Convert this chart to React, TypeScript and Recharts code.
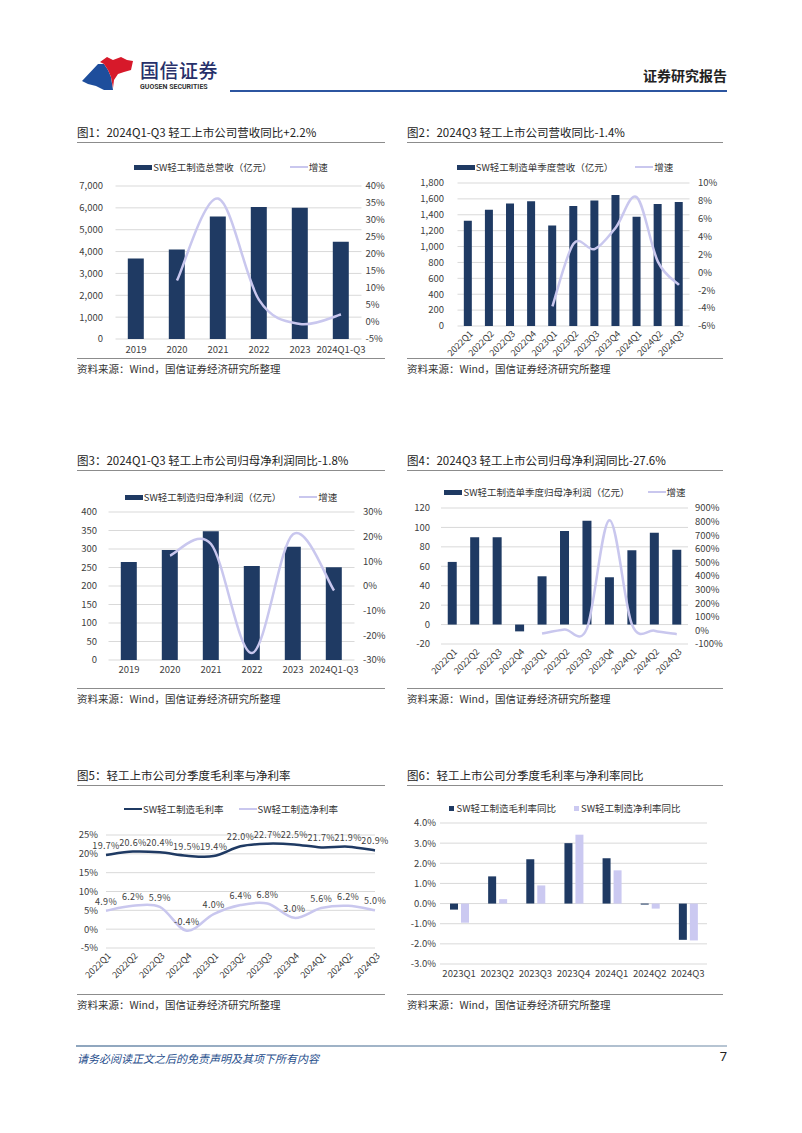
import React from "react";
import {
  ComposedChart,
  BarChart,
  LineChart,
  Bar,
  Line,
  XAxis,
  YAxis,
  CartesianGrid,
  LabelList,
} from "recharts";

const NAVY = "#1F3A63";
const LAVENDER = "#C9C7EE";
const GRID = "#D9D9D9";
const TEXT = "#404040";
const FONT = '"Noto Sans CJK SC", "Noto Sans", sans-serif';

// 图1 / 图3 years
const yearCats = ["2019", "2020", "2021", "2022", "2023", "2024Q1-Q3"];
const revenueTotal = [3680, 4100, 5600, 6040, 6010, 4450];
const revenueTotalYoy = [null, 12.2, 36.3, 6.5, -0.6, 2.2];
const revenueTicks = [0, 1000, 2000, 3000, 4000, 5000, 6000, 7000];
const revenueYoyTicks = [-5, 0, 5, 10, 15, 20, 25, 30, 35, 40];

// 图2 / 图4 / 图5 quarters
const quarters = [
  "2022Q1", "2022Q2", "2022Q3", "2022Q4",
  "2023Q1", "2023Q2", "2023Q3", "2023Q4",
  "2024Q1", "2024Q2", "2024Q3",
];
const revenueQuarter = [1325, 1463, 1543, 1569, 1266, 1510, 1581, 1648, 1375, 1535, 1560];
const revenueQuarterYoy = [null, null, null, null, -3.8, 3.2, 2.6, 5.0, 8.4, 1.2, -1.4];
const revenueQTicks = [0, 200, 400, 600, 800, 1000, 1200, 1400, 1600, 1800];
const revenueQYoyTicks = [-6, -4, -2, 0, 2, 4, 6, 8, 10];

const profitTotal = [265, 297, 348, 254, 306, 251];
const profitTotalYoy = [null, 12.3, 17.0, -27.2, 21.0, -1.8];
const profitTicks = [0, 50, 100, 150, 200, 250, 300, 350, 400];
const profitYoyTicks = [-30, -20, -10, 0, 10, 20, 30];

const profitQuarter = [64.5, 90, 90, -7, 49.7, 96.3, 107, 48.7, 76.5, 94.6, 77];
const profitQuarterYoy = [null, null, null, null, -23, 7, 15, 810, 45, -2, -27.6];
const profitQTicks = [-20, 0, 20, 40, 60, 80, 100, 120];
const profitQYoyTicks = [-100, 0, 100, 200, 300, 400, 500, 600, 700, 800, 900];

const grossMargin = [19.7, 20.6, 20.4, 19.5, 19.4, 22.0, 22.7, 22.5, 21.7, 21.9, 20.9];
const netMargin = [4.9, 6.2, 5.9, -0.4, 4.0, 6.4, 6.8, 3.0, 5.6, 6.2, 5.0];
const marginTicks = [-5, 0, 5, 10, 15, 20, 25];

// 图6
const quarters23 = ["2023Q1", "2023Q2", "2023Q3", "2023Q4", "2024Q1", "2024Q2", "2024Q3"];
const grossMarginYoy = [-0.3, 1.35, 2.2, 3.0, 2.25, -0.05, -1.8];
const netMarginYoy = [-0.95, 0.22, 0.9, 3.42, 1.65, -0.25, -1.83];
const marginYoyTicks = [-3, -2, -1, 0, 1, 2, 3, 4];

// Excel-like smoothed line (cardinal / catmull-rom style bezier)
const excelCurve = (context: any) => {
  let pts: number[][] = [];
  return {
    areaStart() {},
    areaEnd() {},
    lineStart() {
      pts = [];
    },
    point(x: number, y: number) {
      pts.push([+x, +y]);
    },
    lineEnd() {
      const n = pts.length;
      if (!n) return;
      context.moveTo(pts[0][0], pts[0][1]);
      for (let i = 0; i < n - 1; i++) {
        const p0 = pts[i - 1] || pts[i];
        const p1 = pts[i];
        const p2 = pts[i + 1];
        const p3 = pts[i + 2] || p2;
        context.bezierCurveTo(
          p1[0] + (p2[0] - p0[0]) / 6,
          p1[1] + (p2[1] - p0[1]) / 6,
          p2[0] - (p3[0] - p1[0]) / 6,
          p2[1] - (p3[1] - p1[1]) / 6,
          p2[0],
          p2[1]
        );
      }
    },
  };
};

const thousands = (v: number) => v.toLocaleString("en-US");
const pct = (v: number) => `${v}%`;
const pct1 = (v: number) => `${v.toFixed(1)}%`;

const FlatTick = (props: any) => {
  const { x, y, payload, dy = 10 } = props;
  return (
    <text x={x} y={y + dy} textAnchor="middle" dominantBaseline="central" fontSize={9.5} fill={TEXT} fontFamily={FONT}>
      {payload.value}
    </text>
  );
};

const RotTick = (props: any) => {
  const { x, y, payload } = props;
  const ax = x + 3;
  const ay = y + 6;
  return (
    <text
      x={ax}
      y={ay}
      textAnchor="end"
      dominantBaseline="central"
      fontSize={9}
      fill={TEXT}
      fontFamily={FONT}
      transform={`rotate(-45 ${ax} ${ay})`}
    >
      {payload.value}
    </text>
  );
};

const tickStyle = { fontSize: 9.5, fill: TEXT, fontFamily: FONT };

type Box = { x0: number; x1: number; y0: number; y1: number };
type Frame = { L: number; T: number; W: number; H: number };

function Combo(props: {
  cats: string[];
  bars: number[];
  yoy: (number | null)[];
  box: Box;
  frame: Frame;
  leftTicks: number[];
  rightTicks: number[];
  leftFmt: (v: number) => string;
  leftGap: number;
  rightGap: number;
  rotated?: boolean;
  labelDy?: number;
}) {
  const { cats, bars, yoy, box, frame, leftTicks, rightTicks } = props;
  const data = cats.map((c, i) => ({ cat: c, v: bars[i], g: yoy[i] }));
  return (
    <div style={{ position: "absolute", left: frame.L, top: frame.T }}>
      <ComposedChart
        width={frame.W}
        height={frame.H}
        data={data}
        margin={{ top: box.y0 - frame.T, right: 0, bottom: 0, left: 0 }}
        barCategoryGap="30%"
      >
        <CartesianGrid vertical={false} stroke={GRID} />
        <XAxis
          dataKey="cat"
          height={frame.T + frame.H - box.y1}
          axisLine={false}
          tickLine={false}
          tickSize={0}
          tickMargin={0}
          interval={0}
          tick={props.rotated ? <RotTick /> : <FlatTick dy={props.labelDy ?? 10} />}
        />
        <YAxis
          width={box.x0 - frame.L}
          domain={[leftTicks[0], leftTicks[leftTicks.length - 1]]}
          ticks={leftTicks}
          tickFormatter={props.leftFmt}
          axisLine={false}
          tickLine={false}
          tickSize={0}
          tickMargin={props.leftGap}
          tick={tickStyle}
          interval={0}
        />
        <YAxis
          yAxisId="r"
          orientation="right"
          width={frame.L + frame.W - box.x1}
          domain={[rightTicks[0], rightTicks[rightTicks.length - 1]]}
          ticks={rightTicks}
          tickFormatter={pct}
          axisLine={false}
          tickLine={false}
          tickSize={0}
          tickMargin={props.rightGap}
          tick={tickStyle}
          interval={0}
        />
        <Bar dataKey="v" fill={NAVY} isAnimationActive={false} />
        <Line
          yAxisId="r"
          dataKey="g"
          type={excelCurve as any}
          stroke={LAVENDER}
          strokeWidth={2.5}
          dot={false}
          activeDot={false}
          connectNulls={false}
          isAnimationActive={false}
        />
      </ComposedChart>
    </div>
  );
}

const labelStyle = { fontSize: 9, fill: TEXT, fontFamily: FONT, letterSpacing: 0.3 };

function MarginLines() {
  const data = quarters.map((c, i) => ({ cat: c, gross: grossMargin[i], net: netMargin[i] }));
  const frame = { L: 70, T: 825, W: 320, H: 160 };
  const box = { x0: 106, x1: 375, y0: 835, y1: 948 };
  return (
    <div style={{ position: "absolute", left: frame.L, top: frame.T }}>
      <LineChart
        width={frame.W}
        height={frame.H}
        data={data}
        margin={{ top: box.y0 - frame.T, right: frame.L + frame.W - box.x1, bottom: 0, left: 0 }}
      >
        <CartesianGrid vertical={false} stroke={GRID} />
        <XAxis
          dataKey="cat"
          height={frame.T + frame.H - box.y1}
          axisLine={false}
          tickLine={false}
          tickSize={0}
          tickMargin={0}
          interval={0}
          tick={<RotTick />}
        />
        <YAxis
          width={box.x0 - frame.L}
          domain={[-5, 25]}
          ticks={marginTicks}
          tickFormatter={pct}
          axisLine={false}
          tickLine={false}
          tickSize={0}
          tickMargin={8}
          tick={tickStyle}
          interval={0}
        />
        <Line dataKey="gross" type={excelCurve as any} stroke={NAVY} strokeWidth={2.5} dot={false} isAnimationActive={false}>
          <LabelList dataKey="gross" position="top" offset={6} formatter={(v: any) => pct1(Number(v))} style={labelStyle} />
        </Line>
        <Line dataKey="net" type={excelCurve as any} stroke={LAVENDER} strokeWidth={2.5} dot={false} isAnimationActive={false}>
          <LabelList dataKey="net" position="top" offset={6} formatter={(v: any) => pct1(Number(v))} style={labelStyle} />
        </Line>
      </LineChart>
    </div>
  );
}

function MarginYoyBars() {
  const data = quarters23.map((c, i) => ({ cat: c, gross: grossMarginYoy[i], net: netMarginYoy[i] }));
  const frame = { L: 400, T: 813, W: 320, H: 175 };
  const box = { x0: 440, x1: 707, y0: 823, y1: 964 };
  return (
    <div style={{ position: "absolute", left: frame.L, top: frame.T }}>
      <BarChart
        width={frame.W}
        height={frame.H}
        data={data}
        margin={{ top: box.y0 - frame.T, right: frame.L + frame.W - box.x1, bottom: 0, left: 0 }}
        barGap={3}
      >
        <CartesianGrid vertical={false} stroke={GRID} />
        <XAxis
          dataKey="cat"
          height={frame.T + frame.H - box.y1}
          axisLine={false}
          tickLine={false}
          tickSize={0}
          tickMargin={0}
          interval={0}
          tick={<FlatTick dy={9} />}
        />
        <YAxis
          width={box.x0 - frame.L}
          domain={[-3, 4]}
          ticks={marginYoyTicks}
          tickFormatter={pct1}
          axisLine={false}
          tickLine={false}
          tickSize={0}
          tickMargin={4}
          tick={tickStyle}
          interval={0}
        />
        <Bar dataKey="gross" fill={NAVY} barSize={8} isAnimationActive={false} />
        <Bar dataKey="net" fill="#CBC9F1" barSize={8} isAnimationActive={false} />
      </BarChart>
    </div>
  );
}

type LegendItem = { label: string; kind: "bar" | "line" | "square"; color: string };

function Legend(props: { items: LegendItem[]; cx: number; y: number; gap?: number }) {
  return (
    <div
      style={{
        position: "absolute",
        left: props.cx - 200,
        width: 400,
        top: props.y - 8,
        height: 16,
        display: "flex",
        justifyContent: "center",
        alignItems: "center",
        gap: props.gap ?? 18,
        fontSize: 9.5,
        color: "#333",
        fontFamily: FONT,
        whiteSpace: "nowrap",
      }}
    >
      {props.items.map((it) => (
        <div key={it.label} style={{ display: "flex", alignItems: "center" }}>
          <span
            style={{
              display: "inline-block",
              width: it.kind === "square" ? 5 : 18,
              height: it.kind === "bar" ? 5 : it.kind === "line" ? 2.5 : 5,
              background: it.color,
              marginRight: it.kind === "square" ? 2 : 1,
            }}
          />
          <span>{it.label}</span>
        </div>
      ))}
    </div>
  );
}

function Title(props: { x: number; y: number; w: number; text: string }) {
  return (
    <>
      <div
        style={{
          position: "absolute",
          left: props.x,
          top: props.y - 9,
          height: 18,
          lineHeight: "18px",
          fontSize: 11.5,
          color: "#222",
          fontFamily: FONT,
          whiteSpace: "nowrap",
        }}
      >
        {props.text}
      </div>
      <div style={{ position: "absolute", left: props.x, top: props.y + 10, width: props.w, height: 1, background: "#8C8C8C" }} />
    </>
  );
}

function Source(props: { x: number; y: number; w: number }) {
  return (
    <>
      <div style={{ position: "absolute", left: props.x, top: props.y, width: props.w, height: 1, background: "#8C8C8C" }} />
      <div
        style={{
          position: "absolute",
          left: props.x,
          top: props.y + 3,
          height: 16,
          lineHeight: "16px",
          fontSize: 10.5,
          color: "#333",
          fontFamily: FONT,
          whiteSpace: "nowrap",
        }}
      >
        资料来源：Wind，国信证券经济研究所整理
      </div>
    </>
  );
}

const LW = 308;
const RW = 316;

export default function App() {
  return (
    <div
      style={{
        position: "absolute",
        left: 0,
        top: 0,
        width: 802,
        height: 1133,
        background: "#fff",
        fontFamily: FONT,
        overflow: "hidden",
      }}
    >
      {/* header */}
      <svg width={802} height={100} style={{ position: "absolute", left: 0, top: 0 }}>
        <polygon points="82,81 98,64 104,64 108,70 111,77 113,90 104,90 96,86 88,84" fill="#1E4E9C" />
        <polygon points="100,62 107,57 113,60 121,57 127,60 133,61 131,70 124,72 118,74 114,80 113,88 111,77 108,70 104,64" fill="#D7192A" />
      </svg>
      <div style={{ position: "absolute", left: 140, top: 59, fontSize: 19, lineHeight: "22px", color: "#27306A", fontWeight: 500, letterSpacing: 0.5 }}>
        国信证券
      </div>
      <div style={{ position: "absolute", left: 140, top: 83, fontSize: 7, lineHeight: "9px", color: "#333", fontWeight: 700, fontFamily: "Roboto, sans-serif" }}>
        GUOSEN SECURITIES
      </div>
      <div style={{ position: "absolute", left: 230, top: 90, width: 497, height: 2, background: "#2C55A0" }} />
      <div style={{ position: "absolute", right: 802 - 727, top: 66, fontSize: 14, lineHeight: "18px", fontWeight: 700, color: "#222" }}>
        证券研究报告
      </div>

      {/* 图1 */}
      <Title x={77} y={132} w={LW} text="图1：2024Q1-Q3 轻工上市公司营收同比+2.2%" />
      <Legend
        cx={231}
        y={167}
        items={[
          { label: "SW轻工制造总营收（亿元）", kind: "bar", color: NAVY },
          { label: "增速", kind: "line", color: LAVENDER },
        ]}
      />
      <Combo
        cats={yearCats}
        bars={revenueTotal}
        yoy={revenueTotalYoy}
        frame={{ L: 70, T: 176, W: 330, H: 180 }}
        box={{ x0: 115.5, x1: 361.5, y0: 186, y1: 339 }}
        leftTicks={revenueTicks}
        rightTicks={revenueYoyTicks}
        leftFmt={thousands}
        leftGap={12.5}
        rightGap={4}
        labelDy={10}
      />
      <Source x={77} y={358} w={LW} />

      {/* 图2 */}
      <Title x={407} y={132} w={RW} text="图2：2024Q3 轻工上市公司营收同比-1.4%" />
      <Legend
        cx={565}
        y={167}
        gap={22}
        items={[
          { label: "SW轻工制造单季度营收（亿元）", kind: "bar", color: NAVY },
          { label: "增速", kind: "line", color: LAVENDER },
        ]}
      />
      <Combo
        cats={quarters}
        bars={revenueQuarter}
        yoy={revenueQuarterYoy}
        frame={{ L: 400, T: 173, W: 335, H: 195 }}
        box={{ x0: 457.5, x1: 689.5, y0: 183, y1: 326 }}
        leftTicks={revenueQTicks}
        rightTicks={revenueQYoyTicks}
        leftFmt={thousands}
        leftGap={13.5}
        rightGap={8.5}
        rotated
      />
      <Source x={407} y={358} w={RW} />

      {/* 图3 */}
      <Title x={77} y={460} w={LW} text="图3：2024Q1-Q3 轻工上市公司归母净利润同比-1.8%" />
      <Legend
        cx={231}
        y={497}
        items={[
          { label: "SW轻工制造归母净利润（亿元）", kind: "bar", color: NAVY },
          { label: "增速", kind: "line", color: LAVENDER },
        ]}
      />
      <Combo
        cats={yearCats}
        bars={profitTotal}
        yoy={profitTotalYoy}
        frame={{ L: 70, T: 502, W: 330, H: 180 }}
        box={{ x0: 108.5, x1: 354.5, y0: 512, y1: 660 }}
        leftTicks={profitTicks}
        rightTicks={profitYoyTicks}
        leftFmt={thousands}
        leftGap={11.5}
        rightGap={8.5}
        labelDy={9}
      />
      <Source x={77} y={688} w={LW} />

      {/* 图4 */}
      <Title x={407} y={460} w={RW} text="图4：2024Q3 轻工上市公司归母净利润同比-27.6%" />
      <Legend
        cx={565}
        y={492}
        items={[
          { label: "SW轻工制造单季度归母净利润（亿元）", kind: "bar", color: NAVY },
          { label: "增速", kind: "line", color: LAVENDER },
        ]}
      />
      <Combo
        cats={quarters}
        bars={profitQuarter}
        yoy={profitQuarterYoy}
        frame={{ L: 400, T: 498, W: 335, H: 185 }}
        box={{ x0: 441, x1: 688, y0: 508, y1: 644 }}
        leftTicks={profitQTicks}
        rightTicks={profitQYoyTicks}
        leftFmt={thousands}
        leftGap={11}
        rightGap={7}
        rotated
      />
      <Source x={407} y={688} w={RW} />

      {/* 图5 */}
      <Title x={77} y={775} w={LW} text="图5：轻工上市公司分季度毛利率与净利率" />
      <Legend
        cx={231}
        y={809}
        gap={15}
        items={[
          { label: "SW轻工制造毛利率", kind: "line", color: NAVY },
          { label: "SW轻工制造净利率", kind: "line", color: LAVENDER },
        ]}
      />
      <MarginLines />
      <Source x={77} y={994} w={LW} />

      {/* 图6 */}
      <Title x={407} y={775} w={RW} text="图6：轻工上市公司分季度毛利率与净利率同比" />
      <Legend
        cx={565}
        y={808}
        items={[
          { label: "SW轻工制造毛利率同比", kind: "square", color: NAVY },
          { label: "SW轻工制造净利率同比", kind: "square", color: "#CBC9F1" },
        ]}
      />
      <MarginYoyBars />
      <Source x={407} y={994} w={RW} />

      {/* footer */}
      <div style={{ position: "absolute", left: 76, top: 1045, width: 651, height: 2, background: "linear-gradient(90deg, #8FA6BE, #B7C5D3)" }} />
      <div style={{ position: "absolute", left: 77, top: 1050, fontSize: 11, lineHeight: "16px", fontStyle: "italic", color: "#1F4E8C" }}>
        请务必阅读正文之后的免责声明及其项下所有内容
      </div>
      <div style={{ position: "absolute", right: 802 - 727, top: 1049, fontSize: 13, lineHeight: "16px", color: "#222", fontFamily: "Roboto, sans-serif" }}>
        7
      </div>
    </div>
  );
}
